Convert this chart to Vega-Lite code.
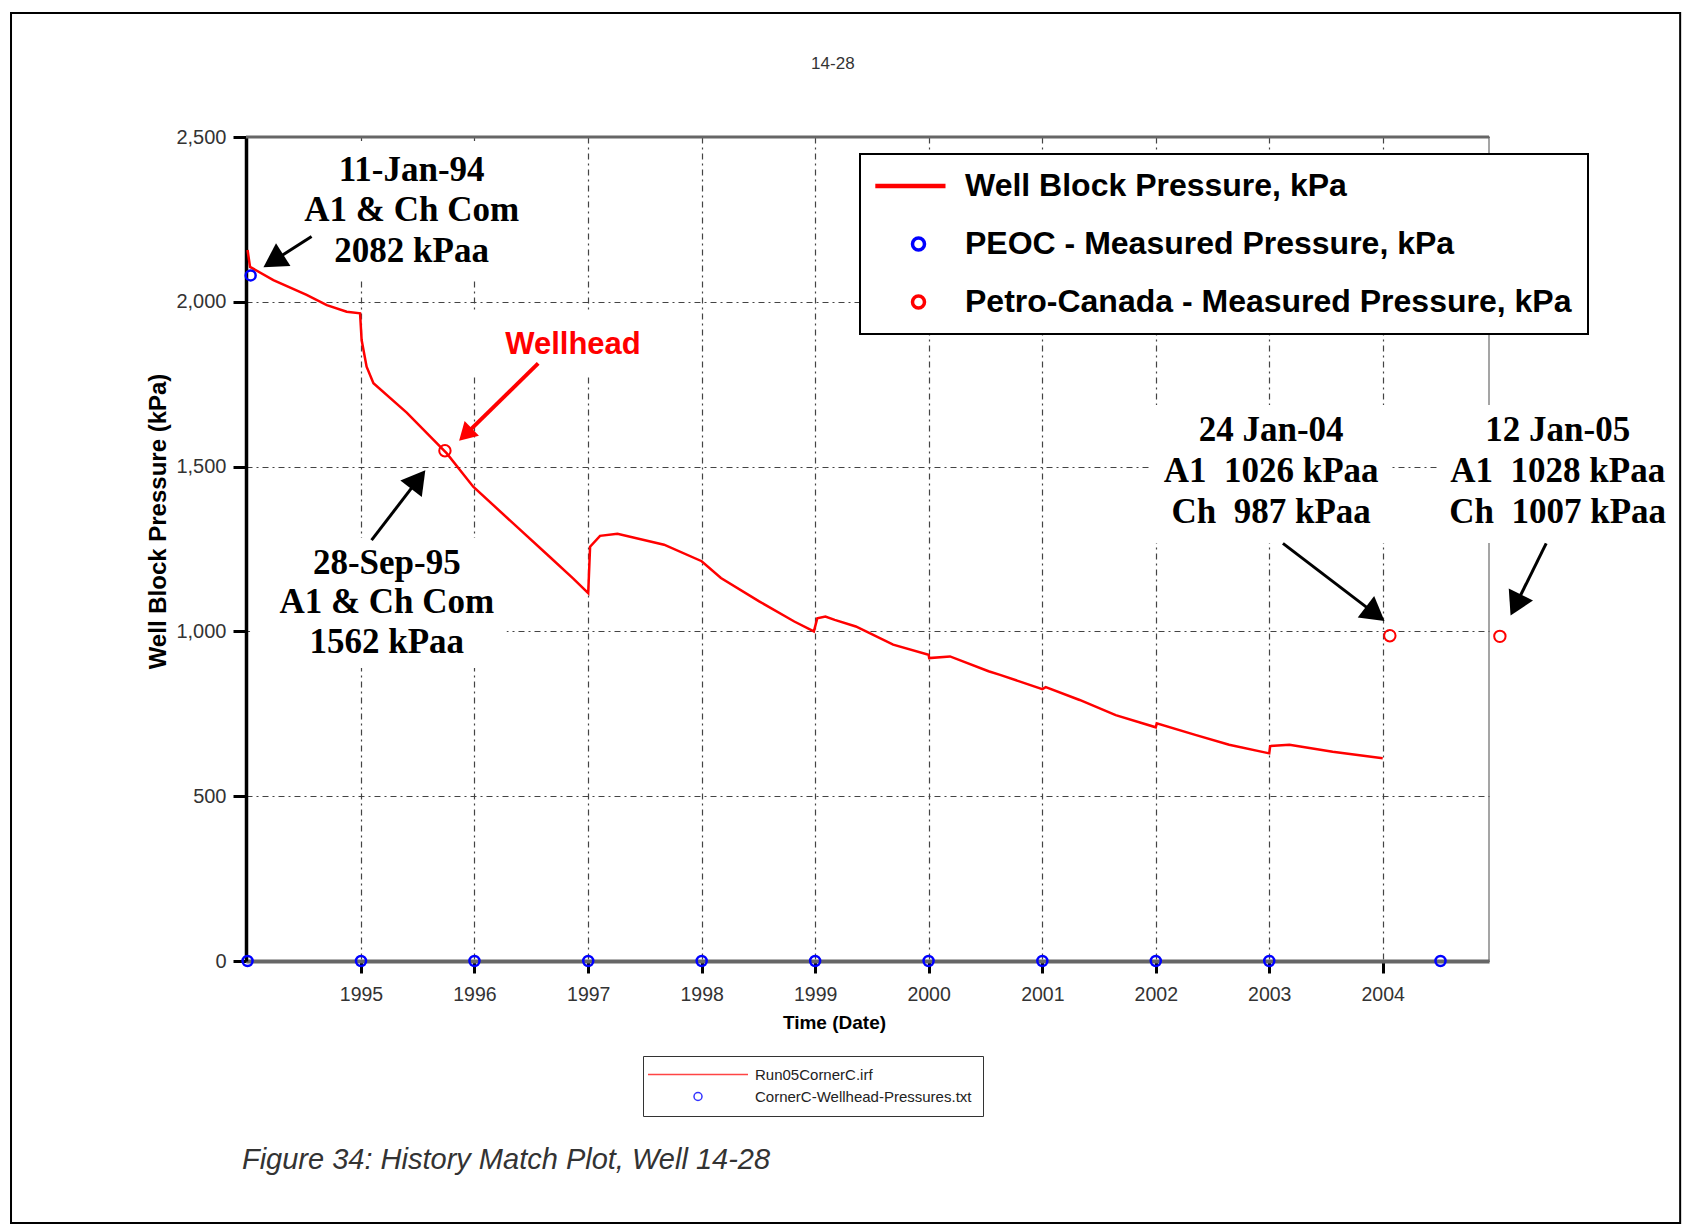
{
  "$schema": "https://vega.github.io/schema/vega-lite/v6.json",
  "width": 1243,
  "height": 824,
  "autosize": {"type": "none"},
  "padding": {"left": 246, "top": 137, "right": 196, "bottom": 264},
  "background": "white",
  "config": {
    "view": {"stroke": "#888888", "strokeWidth": 1.5},
    "axis": {"labelFont": "Liberation Sans", "titleFont": "Liberation Sans"}
  },
  "datasets": {
    "wbp": [
      {"x": "1994-01-01", "y": 2157}, {"x": "1994-01-09", "y": 2106}, {"x": "1994-03-25", "y": 2066},
      {"x": "1994-07-10", "y": 2021}, {"x": "1994-09-13", "y": 1990}, {"x": "1994-11-16", "y": 1970},
      {"x": "1994-12-29", "y": 1965}, {"x": "1995-01-03", "y": 1884}, {"x": "1995-01-19", "y": 1803},
      {"x": "1995-02-10", "y": 1753}, {"x": "1995-05-28", "y": 1664}, {"x": "1995-10-04", "y": 1540},
      {"x": "1995-12-28", "y": 1439}, {"x": "1996-08-28", "y": 1228}, {"x": "1996-11-14", "y": 1160},
      {"x": "1997-01-01", "y": 1116}, {"x": "1997-01-07", "y": 1257}, {"x": "1997-02-08", "y": 1290},
      {"x": "1997-04-05", "y": 1296}, {"x": "1997-09-02", "y": 1263}, {"x": "1998-01-01", "y": 1213},
      {"x": "1998-03-04", "y": 1162}, {"x": "1998-07-05", "y": 1091}, {"x": "1998-10-26", "y": 1030},
      {"x": "1998-12-28", "y": 1000}, {"x": "1999-01-08", "y": 1040}, {"x": "1999-02-03", "y": 1045},
      {"x": "1999-03-05", "y": 1035}, {"x": "1999-05-12", "y": 1015}, {"x": "1999-09-09", "y": 960},
      {"x": "2000-01-01", "y": 929}, {"x": "2000-01-03", "y": 919}, {"x": "2000-03-10", "y": 924},
      {"x": "2000-07-12", "y": 879}, {"x": "2000-08-18", "y": 868}, {"x": "2001-01-01", "y": 825},
      {"x": "2001-01-12", "y": 831}, {"x": "2001-05-01", "y": 792}, {"x": "2001-08-25", "y": 746},
      {"x": "2002-01-01", "y": 709}, {"x": "2002-01-04", "y": 721}, {"x": "2002-05-08", "y": 686},
      {"x": "2002-08-25", "y": 656}, {"x": "2003-01-01", "y": 630}, {"x": "2003-01-04", "y": 652},
      {"x": "2003-03-07", "y": 656}, {"x": "2003-07-24", "y": 635}, {"x": "2004-01-01", "y": 615}
    ],
    "peoc": [
      {"x": "1994-01-11", "y": 2080},
      {"x": "1994-01-01", "y": 0}, {"x": "1995-01-01", "y": 0}, {"x": "1996-01-01", "y": 0},
      {"x": "1997-01-01", "y": 0}, {"x": "1998-01-01", "y": 0}, {"x": "1999-01-01", "y": 0},
      {"x": "2000-01-01", "y": 0}, {"x": "2001-01-01", "y": 0}, {"x": "2002-01-01", "y": 0},
      {"x": "2003-01-01", "y": 0}, {"x": "2004-07-05", "y": 0}
    ],
    "pc": [
      {"x": "1995-09-28", "y": 1548},
      {"x": "2004-01-24", "y": 987},
      {"x": "2005-01-12", "y": 985}
    ],
    "files": [
      {"file": "Run05CornerC.irf"},
      {"file": "CornerC-Wellhead-Pressures.txt"}
    ],
    "arrows": [
      {"x": "1994-07-26", "y": 2198, "x2": "1994-03-25", "y2": 2124},
      {"x": "1995-02-04", "y": 1277, "x2": "1995-07-04", "y2": 1461},
      {"x": "2003-02-14", "y": 1267, "x2": "2003-12-08", "y2": 1053},
      {"x": "2005-06-10", "y": 1267, "x2": "2005-03-04", "y2": 1080}
    ],
    "heads": [
      {"x": "1994-03-25", "y": 2124, "angle": 237.7},
      {"x": "1995-07-04", "y": 1461, "angle": 37.5},
      {"x": "2003-12-08", "y": 1053, "angle": 127.5},
      {"x": "2005-03-04", "y": 1080, "angle": 206.1}
    ],
    "redArrow": [
      {"x": "1996-07-24", "y": 1813, "x2": "1995-12-03", "y2": 1597}
    ],
    "redHead": [
      {"x": "1995-12-03", "y": 1597, "angle": 225.6}
    ],
    "notes": [
      {"x": "1995-06-13", "y": 2400, "label": "11-Jan-94"},
      {"x": "1995-06-13", "y": 2279, "label": "A1 & Ch Com"},
      {"x": "1995-06-13", "y": 2154, "label": "2082 kPaa"},
      {"x": "1995-03-25", "y": 1207, "label": "28-Sep-95"},
      {"x": "1995-03-25", "y": 1090, "label": "A1 & Ch Com"},
      {"x": "1995-03-25", "y": 969, "label": "1562 kPaa"},
      {"x": "2003-01-07", "y": 1611, "label": "24 Jan-04"},
      {"x": "2003-01-07", "y": 1487, "label": "A1\u00a0 1026 kPaa"},
      {"x": "2003-01-07", "y": 1362, "label": "Ch\u00a0 987 kPaa"},
      {"x": "2005-07-17", "y": 1611, "label": "12 Jan-05"},
      {"x": "2005-07-17", "y": 1487, "label": "A1\u00a0 1028 kPaa"},
      {"x": "2005-07-17", "y": 1362, "label": "Ch\u00a0 1007 kPaa"}
    ],
    "wellhead": [
      {"x": "1996-11-13", "y": 1869, "label": "Wellhead"}
    ],
    "boxes": [
      {"x": "1994-06-12", "x2": "1996-06-11", "y": 2488, "y2": 2066},
      {"x": "1995-11-22", "x2": "1997-11-08", "y": 1969, "y2": 1775},
      {"x": "1994-01-09", "x2": "1996-04-14", "y": 1283, "y2": 889},
      {"x": "2001-12-13", "x2": "2004-01-24", "y": 1687, "y2": 1268},
      {"x": "2004-06-24", "x2": "2006-07-13", "y": 1687, "y2": 1268}
    ],
    "topline": [
      {"x": "1993-12-27", "x2": "2004-12-08", "y": 2500}
    ],
    "frame": [
      {"x": "1991-12-02", "x2": "2006-08-15", "y": 2876, "y2": -795}
    ],
    "heading": [
      {"x": "1999-02-27", "y": 2720, "label": "14-28"}
    ],
    "caption": [
      {"x": "1993-12-14", "y": -604, "label": "Figure 34: History Match Plot, Well 14-28"}
    ]
  },
  "encoding": {
    "x": {
      "field": "x", "type": "temporal",
      "scale": {"domain": [{"year": 1993, "month": 12, "date": 27}, {"year": 2004, "month": 12, "date": 8}]},
      "axis": {
        "values": [
          {"year": 1995, "month": 1, "date": 1}, {"year": 1996, "month": 1, "date": 1},
          {"year": 1997, "month": 1, "date": 1}, {"year": 1998, "month": 1, "date": 1},
          {"year": 1999, "month": 1, "date": 1}, {"year": 2000, "month": 1, "date": 1},
          {"year": 2001, "month": 1, "date": 1}, {"year": 2002, "month": 1, "date": 1},
          {"year": 2003, "month": 1, "date": 1}, {"year": 2004, "month": 1, "date": 1}
        ],
        "format": "%Y",
        "title": "Time (Date)",
        "grid": true, "gridColor": "#444444", "gridDash": [6, 4, 2, 4], "gridWidth": 1.2,
        "domainColor": "#666666", "domainWidth": 4,
        "tickColor": "black", "tickWidth": 3, "tickSize": 12,
        "labelFontSize": 19.5, "labelColor": "#333333", "labelPadding": 12, "labelFlush": false,
        "titleFontSize": 19, "titleFontWeight": "bold", "titleColor": "black", "titlePadding": 10, "titleX": 588
      }
    },
    "y": {
      "field": "y", "type": "quantitative",
      "scale": {"domain": [0, 2500], "nice": false},
      "axis": {
        "values": [0, 500, 1000, 1500, 2000, 2500],
        "format": ",d",
        "title": "Well Block Pressure (kPa)",
        "grid": true, "gridColor": "#444444", "gridDash": [6, 4, 2, 4], "gridWidth": 1.2,
        "domainColor": "black", "domainWidth": 3.5,
        "tickColor": "black", "tickWidth": 3, "tickSize": 13,
        "labelFontSize": 20, "labelColor": "#333333", "labelPadding": 7,
        "titleFontSize": 24, "titleFontWeight": "bold", "titleColor": "black", "titlePadding": 5, "titleY": 384
      }
    }
  },
  "layer": [
    {
      "data": {"name": "frame"},
      "mark": {"type": "rect", "fill": "transparent", "stroke": "black", "strokeWidth": 2},
      "encoding": {"x2": {"field": "x2"}, "y2": {"field": "y2"}}
    },
    {
      "data": {"name": "boxes"},
      "mark": {"type": "rect", "fill": "white", "strokeWidth": 0},
      "encoding": {"x2": {"field": "x2"}, "y2": {"field": "y2"}}
    },
    {
      "data": {"name": "topline"},
      "mark": {"type": "rule", "color": "#666666", "strokeWidth": 3},
      "encoding": {"x2": {"field": "x2"}}
    },
    {
      "data": {"name": "wbp"},
      "mark": {"type": "line", "strokeWidth": 2.5, "interpolate": "linear"},
      "encoding": {
        "color": {
          "datum": "Well Block Pressure, kPa", "type": "nominal",
          "scale": {
            "domain": ["Well Block Pressure, kPa", "PEOC - Measured Pressure, kPa", "Petro-Canada - Measured Pressure, kPa"],
            "range": ["#ff0000", "#0000ff", "#ff0000"]
          },
          "legend": {
            "title": null, "orient": "none", "legendX": 614, "legendY": 17, "direction": "vertical",
            "fillColor": "white", "strokeColor": "black",
            "padding": 16, "rowPadding": 26,
            "labelFont": "Liberation Sans", "labelFontSize": 32, "labelFontWeight": "bold", "labelColor": "black", "labelLimit": 900,
            "symbolSize": 144, "symbolStrokeWidth": 3.5, "symbolOffset": 26.5, "labelOffset": 30.5,
            "encode": {
              "legend": {"update": {"strokeWidth": {"value": 2}}},
              "symbols": {
                "update": {
                  "shape": {"signal": "datum.value === 'Well Block Pressure, kPa' ? 'M-7.2,0H4.5' : 'circle'"},
                  "stroke": {"signal": "datum.value === 'PEOC - Measured Pressure, kPa' ? '#0000ff' : '#ff0000'"},
                  "fill": {"value": "transparent"},
                  "strokeWidth": {"signal": "datum.value === 'Well Block Pressure, kPa' ? 4.5 : 3.5"},
                  "opacity": {"value": 1}
                }
              }
            }
          }
        }
      }
    },
    {
      "data": {"name": "peoc"},
      "mark": {"type": "point", "filled": false, "size": 100, "strokeWidth": 2.5, "opacity": 1},
      "encoding": {
        "color": {"datum": "PEOC - Measured Pressure, kPa", "type": "nominal"}
      }
    },
    {
      "data": {"name": "pc"},
      "mark": {"type": "point", "filled": false, "size": 130, "strokeWidth": 2, "opacity": 1},
      "encoding": {
        "color": {"datum": "Petro-Canada - Measured Pressure, kPa", "type": "nominal"}
      }
    },
    {
      "data": {"name": "files"},
      "mark": {"type": "point", "filled": false, "opacity": 0},
      "encoding": {
        "stroke": {
          "field": "file", "type": "nominal",
          "scale": {"domain": ["Run05CornerC.irf", "CornerC-Wellhead-Pressures.txt"], "range": ["#ff4444", "#3333ff"]},
          "legend": {
            "title": null, "orient": "none", "legendX": 397, "legendY": 919, "direction": "vertical",
            "fillColor": "white", "strokeColor": "#333333",
            "padding": 11, "rowPadding": 6,
            "labelFont": "Liberation Sans", "labelFontSize": 15, "labelColor": "#222222", "labelLimit": 600,
            "symbolSize": 64, "symbolStrokeWidth": 1.5, "symbolOpacity": 1, "symbolFillColor": "transparent",
            "symbolOffset": 36.5, "labelOffset": 49.5
          }
        },
        "shape": {
          "field": "file", "type": "nominal",
          "scale": {"domain": ["Run05CornerC.irf", "CornerC-Wellhead-Pressures.txt"], "range": ["M-12.5,0H12.5", "circle"]},
          "legend": {
            "title": null, "orient": "none", "legendX": 397, "legendY": 919, "direction": "vertical",
            "fillColor": "white", "strokeColor": "#333333",
            "padding": 11, "rowPadding": 6,
            "labelFont": "Liberation Sans", "labelFontSize": 15, "labelColor": "#222222", "labelLimit": 600,
            "symbolSize": 64, "symbolStrokeWidth": 1.5, "symbolOpacity": 1, "symbolFillColor": "transparent",
            "symbolOffset": 36.5, "labelOffset": 49.5
          }
        }
      }
    },
    {
      "data": {"name": "arrows"},
      "mark": {"type": "rule", "color": "black", "strokeWidth": 3},
      "encoding": {"x2": {"field": "x2"}, "y2": {"field": "y2"}}
    },
    {
      "data": {"name": "heads"},
      "mark": {"type": "point", "shape": "triangle-up", "filled": true, "color": "black", "size": 730, "opacity": 1, "strokeWidth": 0},
      "encoding": {"angle": {"field": "angle", "type": "quantitative", "scale": null}}
    },
    {
      "data": {"name": "redArrow"},
      "mark": {"type": "rule", "color": "#ff0000", "strokeWidth": 4},
      "encoding": {"x2": {"field": "x2"}, "y2": {"field": "y2"}}
    },
    {
      "data": {"name": "redHead"},
      "mark": {"type": "point", "shape": "triangle-up", "filled": true, "color": "#ff0000", "size": 420, "opacity": 1, "strokeWidth": 0},
      "encoding": {"angle": {"field": "angle", "type": "quantitative", "scale": null}}
    },
    {
      "data": {"name": "notes"},
      "mark": {"type": "text", "font": "Liberation Serif", "fontSize": 35, "fontWeight": "bold", "align": "center", "baseline": "middle", "color": "black"},
      "encoding": {"text": {"field": "label"}}
    },
    {
      "data": {"name": "wellhead"},
      "mark": {"type": "text", "font": "Liberation Sans", "fontSize": 31, "fontWeight": "bold", "align": "center", "baseline": "middle", "color": "#ff0000"},
      "encoding": {"text": {"field": "label"}}
    },
    {
      "data": {"name": "heading"},
      "mark": {"type": "text", "font": "Liberation Sans", "fontSize": 17, "align": "center", "baseline": "middle", "color": "#333333"},
      "encoding": {"text": {"field": "label"}}
    },
    {
      "data": {"name": "caption"},
      "mark": {"type": "text", "font": "Liberation Sans", "fontSize": 29, "fontStyle": "italic", "align": "left", "baseline": "middle", "color": "#333333"},
      "encoding": {"text": {"field": "label"}}
    }
  ]
}
